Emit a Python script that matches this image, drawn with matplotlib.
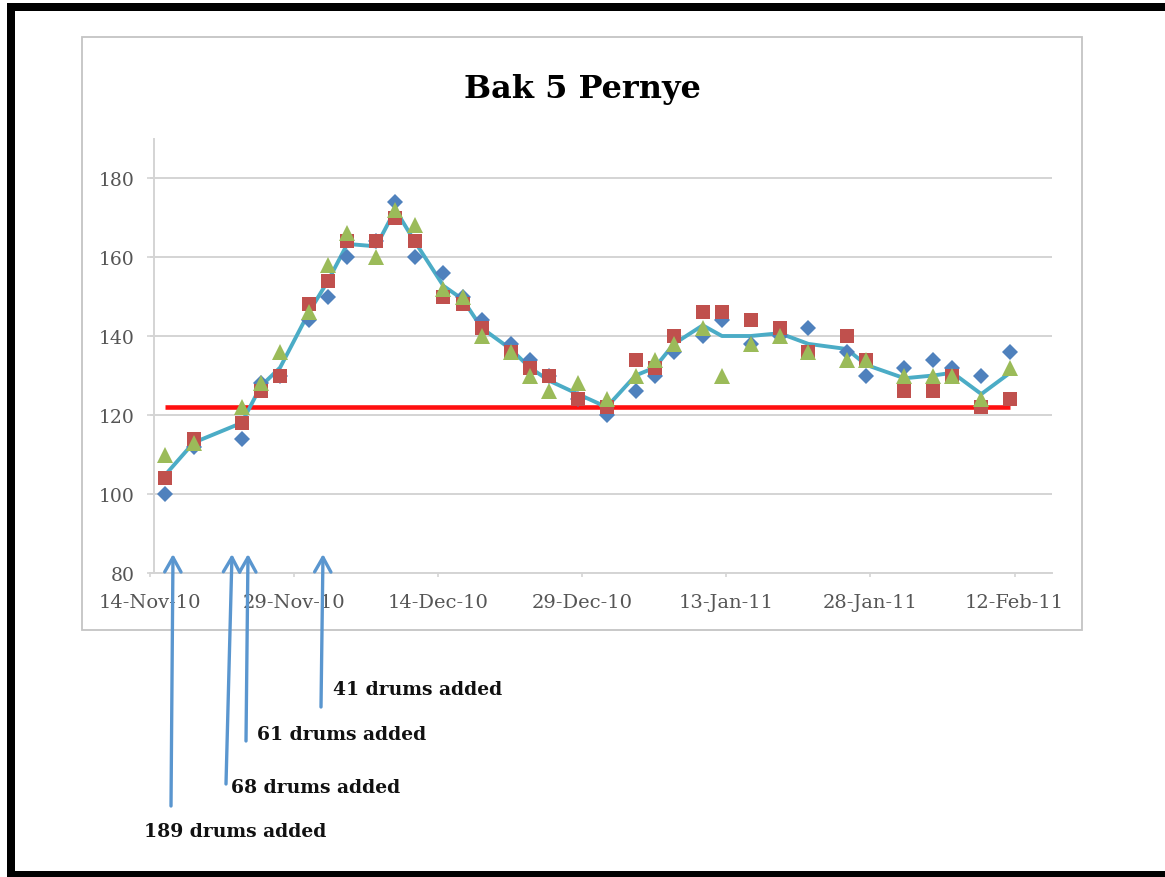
import matplotlib
matplotlib.use("Agg")
import matplotlib.pyplot as plt
import matplotlib.dates as mdates
from matplotlib.patches import Rectangle, FancyArrowPatch
import pandas as pd

# ---------------- data ----------------
dates = ["2010-11-15", "2010-11-18", "2010-11-23", "2010-11-25", "2010-11-27",
         "2010-11-30", "2010-12-02", "2010-12-04", "2010-12-07", "2010-12-09",
         "2010-12-11", "2010-12-14", "2010-12-16", "2010-12-18", "2010-12-21",
         "2010-12-23", "2010-12-25", "2010-12-28", "2010-12-31", "2011-01-03",
         "2011-01-05", "2011-01-07", "2011-01-10", "2011-01-12", "2011-01-15",
         "2011-01-18", "2011-01-21", "2011-01-25", "2011-01-27", "2011-01-31",
         "2011-02-03", "2011-02-05", "2011-02-08", "2011-02-11"]

blue = [100, 112, 114, 128, 130, 144, 150, 160, 164, 174,
        160, 156, 150, 144, 138, 134, 130, 124, 120, 126,
        130, 136, 140, 144, 138, 140, 142, 136, 130, 132,
        134, 132, 130, 136]

red = [104, 114, 118, 126, 130, 148, 154, 164, 164, 170,
       164, 150, 148, 142, 136, 132, 130, 124, 122, 134,
       132, 140, 146, 146, 144, 142, 136, 140, 134, 126,
       126, 130, 122, 124]

green = [110, 113, 122, 128, 136, 146, 158, 166, 160, 172,
         168, 152, 150, 140, 136, 130, 126, 128, 124, 130,
         134, 138, 142, 130, 138, 140, 136, 134, 134, 130,
         130, 130, 124, 132]

avg_line = [104.7, 113.0, 118.0, 127.3, 132.0, 146.0, 154.0, 163.3, 162.7, 172.0,
            164.0, 152.7, 149.3, 142.0, 136.7, 132.0, 128.7, 125.3, 122.0, 130.0,
            132.0, 138.0, 142.7, 140.0, 140.0, 140.7, 138.0, 136.7, 132.7, 129.3,
            130.0, 130.7, 125.3, 130.7]

target_level = 122

title = "Bak 5 Pernye"
y_ticks = [80, 100, 120, 140, 160, 180]
x_tick_start = "2010-11-14"
x_tick_step_days = 15
n_x_ticks = 7

notes = ["189 drums added", "68 drums added", "61 drums added", "41 drums added"]

# ---------------- figure ----------------
W, H = 1165, 878
fig = plt.figure(figsize=(W / 100, H / 100), dpi=100)
fig.patch.set_facecolor("white")

def fx(px):
    return px / W

def fy(py):
    return 1 - py / H

# outer black border (left, top, bottom)
for (x0, y0, x1, y1) in [(7, 4, 15, 878), (7, 4, 1165, 12), (7, 872, 1165, 878)]:
    fig.patches.append(Rectangle((fx(x0), fy(y1)), fx(x1) - fx(x0), fy(y0) - fy(y1),
                                 transform=fig.transFigure, facecolor="black",
                                 edgecolor="none", zorder=0))
# inner chart frame
fig.patches.append(Rectangle((fx(82), fy(631)), fx(1082) - fx(82), fy(38) - fy(631),
                             transform=fig.transFigure, facecolor="none",
                             edgecolor="#C4C4C4", linewidth=1.3, zorder=0))

ax_left, ax_right, ax_top, ax_bottom = 150, 1052, 139.5, 574
ax = fig.add_axes([fx(ax_left), fy(ax_bottom), fx(ax_right) - fx(ax_left),
                   fy(ax_top) - fy(ax_bottom)])
ax.set_facecolor("none")

x = pd.to_datetime(dates) + pd.Timedelta(hours=13)
xnum = mdates.date2num(x)

tick_dates = pd.date_range(x_tick_start, periods=n_x_ticks, freq=f"{x_tick_step_days}D")
x0 = mdates.date2num(pd.Timestamp(x_tick_start))
ax.set_xlim(x0, x0 + 93.9)
ax.set_ylim(80, 190)

ax.set_yticks(y_ticks)
ax.set_xticks(mdates.date2num(tick_dates))
ax.xaxis.set_major_formatter(mdates.DateFormatter("%d-%b-%y"))

grid_c = "#D4D4D4"
ax.grid(axis="y", color=grid_c, linewidth=1.4, zorder=0)
ax.set_axisbelow(True)
for s in ["top", "right"]:
    ax.spines[s].set_visible(False)
ax.spines["left"].set_color(grid_c)
ax.spines["left"].set_linewidth(1.4)
ax.spines["left"].set_position(("outward", -3))
ax.spines["bottom"].set_color(grid_c)
ax.spines["bottom"].set_linewidth(1.4)

ax.tick_params(axis="y", colors=grid_c, length=5, width=1.2, pad=9,
               labelcolor="#555555", labelsize=13.5)
ax.tick_params(axis="x", colors=grid_c, length=3, width=1.2, pad=11.5,
               labelcolor="#555555", labelsize=14)
for lab in ax.get_xticklabels() + ax.get_yticklabels():
    lab.set_fontfamily("DejaVu Serif")

# series
ax.plot([xnum[0], xnum[-1]], [target_level, target_level], color="#FF1010",
        linewidth=3.3, solid_capstyle="butt", zorder=2)
ax.plot(xnum, avg_line, color="#4BACC6", linewidth=2.8, zorder=3)
ax.plot(xnum, blue, linestyle="none", marker="D", markersize=8.2,
        color="#4F81BD", markeredgewidth=0, zorder=4)
ax.plot(xnum, red, linestyle="none", marker="s", markersize=10.5,
        color="#C0504D", markeredgewidth=0, zorder=5)
ax.plot(xnum, green, linestyle="none", marker="^", markersize=11.5,
        color="#9BBB59", markeredgewidth=0, zorder=6)

# title
fig.text(fx(582), fy(98), title, ha="center", va="baseline",
         family="DejaVu Serif", fontweight="bold", fontsize=23, color="black")

# arrows and notes
arrow_c = "#5A96CF"
arrows = [((171, 807), (173, 555)), ((226, 785), (232, 555)),
          ((246, 742), (248, 555)), ((321, 708), (323, 555))]
for (tail, tip) in arrows:
    fig.add_artist(FancyArrowPatch(
        (fx(tail[0]), fy(tail[1])), (fx(tip[0]), fy(tip[1])),
        transform=fig.transFigure,
        arrowstyle="->,head_length=0.75,head_width=0.42", mutation_scale=14,
        color=arrow_c, linewidth=2.4, shrinkA=0, shrinkB=0, zorder=10))

note_pos = [(144, 837), (231, 793), (257, 740), (333, 695)]
for txt, (px, py) in zip(notes, note_pos):
    fig.text(fx(px), fy(py), txt, ha="left", va="baseline",
             family="DejaVu Serif", fontweight="bold", fontsize=13.5, color="#111111")

fig.savefig("out.png", dpi=100, facecolor="white")
